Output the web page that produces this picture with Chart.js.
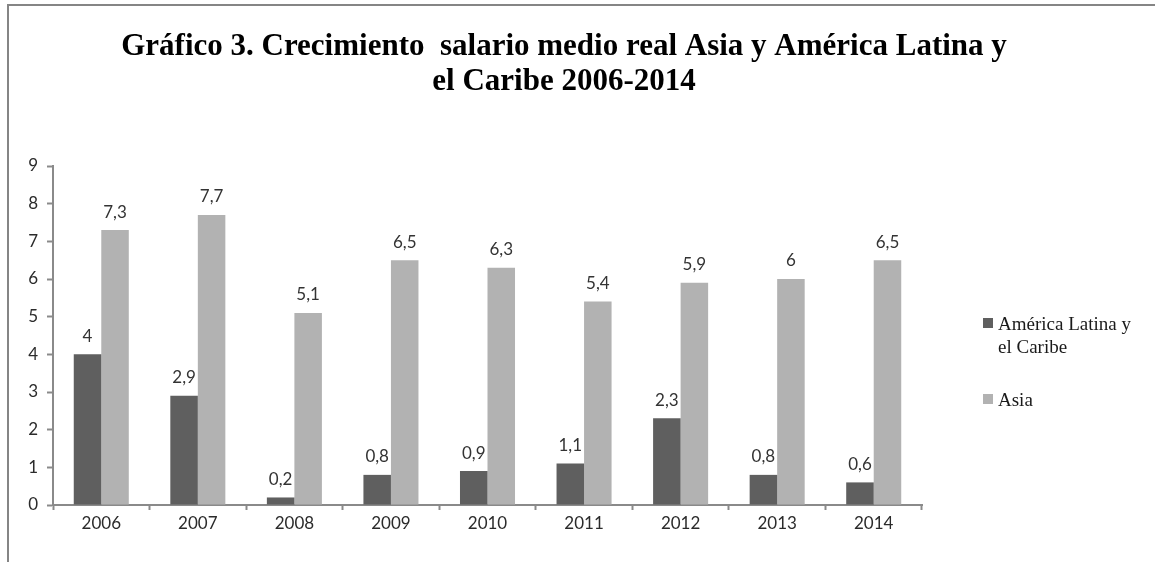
<!DOCTYPE html>
<html>
<head>
<meta charset="utf-8">
<script src="https://cdn.jsdelivr.net/npm/chart.js@4/dist/chart.umd.min.js"></script>
<style>
  html, body { margin: 0; padding: 0; background: #fff; }
  #wrap { width: 1155px; height: 562px; position: relative; }
</style>
</head>
<body>
<div id="wrap"><canvas id="chart" width="1155" height="562"></canvas></div>
<script>
var years = ['2006', '2007', '2008', '2009', '2010', '2011', '2012', '2013', '2014'];
var latamValues = [4, 2.9, 0.2, 0.8, 0.9, 1.1, 2.3, 0.8, 0.6];
var asiaValues = [7.3, 7.7, 5.1, 6.5, 6.3, 5.4, 5.9, 6, 6.5];
var seriesNames = [['América Latina y', 'el Caribe'], ['Asia']];
var titleLines = ['Gráfico 3. Crecimiento  salario medio real Asia y América Latina y', 'el Caribe 2006-2014'];

var darkGray = '#5f5f5f';
var lightGray = '#b2b2b2';
var axisGray = '#8a8a8a';

// frame, title, value labels and the legend on the right
var decorations = {
  id: 'decorations',
  beforeDraw: function(chart) {
    var ctx = chart.ctx;
    ctx.save();
    ctx.strokeStyle = '#858585';
    ctx.lineWidth = 2;
    ctx.beginPath();
    ctx.moveTo(8, 562);
    ctx.lineTo(8, 5);
    ctx.lineTo(1155, 5);
    ctx.stroke();

    ctx.fillStyle = '#000';
    ctx.font = 'bold 31px "Liberation Serif"';
    ctx.textAlign = 'center';
    ctx.textBaseline = 'alphabetic';
    ctx.fillText(titleLines[0], 564, 55);
    ctx.fillText(titleLines[1], 564, 90);
    ctx.restore();
  },
  afterDatasetsDraw: function(chart) {
    var ctx = chart.ctx;
    ctx.save();
    ctx.font = '17px Lato';
    ctx.fillStyle = '#333';
    ctx.textAlign = 'center';
    ctx.textBaseline = 'middle';
    chart.data.datasets.forEach(function(ds, i) {
      var meta = chart.getDatasetMeta(i);
      meta.data.forEach(function(bar, j) {
        var txt = String(ds.data[j]).replace('.', ',');
        ctx.fillText(txt, bar.x, bar.y - 18);
      });
    });

    // legend
    var legendX = 983;
    var legendY = [323, 399];
    ctx.font = '19px "Liberation Serif"';
    ctx.textAlign = 'left';
    chart.data.datasets.forEach(function(ds, i) {
      ctx.fillStyle = ds.backgroundColor;
      ctx.fillRect(legendX, legendY[i] - 5, 10, 10);
      ctx.fillStyle = '#1a1a1a';
      seriesNames[i].forEach(function(line, k) {
        ctx.fillText(line, legendX + 15, legendY[i] + 2 + k * 23);
      });
    });
    ctx.restore();
  }
};

var ctx = document.getElementById('chart').getContext('2d');
var chart = new Chart(ctx, {
  type: 'bar',
  data: {
    labels: years,
    datasets: [
      {
        label: 'América Latina y el Caribe',
        data: latamValues,
        backgroundColor: darkGray,
        barPercentage: 1,
        categoryPercentage: 0.57
      },
      {
        label: 'Asia',
        data: asiaValues,
        backgroundColor: lightGray,
        barPercentage: 1,
        categoryPercentage: 0.57
      }
    ]
  },
  options: {
    responsive: false,
    animation: false,
    layout: {
      padding: { left: 10, right: 233, top: 166, bottom: 17 }
    },
    plugins: {
      legend: { display: false },
      title: { display: false },
      tooltip: { enabled: false }
    },
    scales: {
      x: {
        grid: {
          offset: true,
          drawOnChartArea: false,
          tickLength: 5,
          tickColor: axisGray,
          tickWidth: 2
        },
        border: { color: axisGray, width: 2 },
        ticks: {
          color: '#2b2b2b',
          font: { family: 'Lato', size: 17 },
          padding: 3
        },
        afterFit: function(scale) { scale.height = 40; }
      },
      y: {
        min: 0,
        max: 9,
        ticks: {
          stepSize: 1,
          color: '#2b2b2b',
          font: { family: 'Lato', size: 17 },
          padding: 9
        },
        grid: {
          drawOnChartArea: false,
          tickLength: 6,
          tickColor: axisGray,
          tickWidth: 2
        },
        border: { color: axisGray, width: 2 },
        afterFit: function(scale) { scale.width = 43; }
      }
    }
  },
  plugins: [decorations]
});
</script>
</body>
</html>
